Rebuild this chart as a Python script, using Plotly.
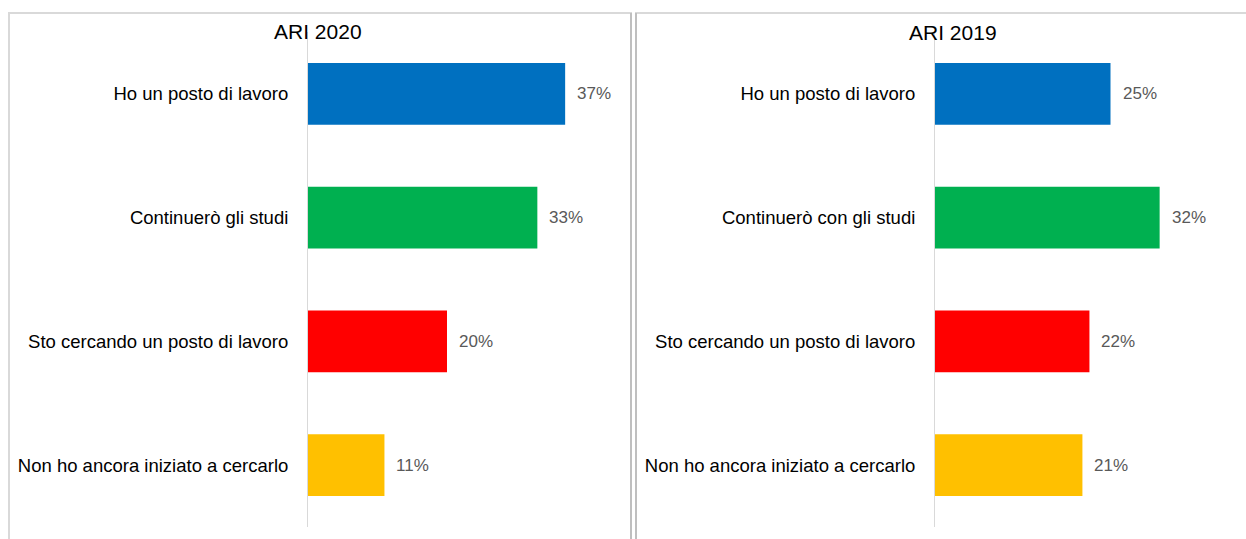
import plotly.graph_objects as go

W, H = 1246, 539

cats_2020 = ["Ho un posto di lavoro", "Continuerò gli studi",
             "Sto cercando un posto di lavoro", "Non ho ancora iniziato a cercarlo"]
vals_2020 = [37, 33, 20, 11]
cats_2019 = ["Ho un posto di lavoro", "Continuerò con gli studi",
             "Sto cercando un posto di lavoro", "Non ho ancora iniziato a cercarlo"]
vals_2019 = [25, 32, 22, 21]
colors = ["#0070C0", "#00B050", "#FF0000", "#FFC000"]
titles = ["ARI 2020", "ARI 2019"]

FONT = "Liberation Sans"

def px(x):
    return x / W

def py(y):
    return 1 - y / H

fig = go.Figure()

fig.add_trace(go.Bar(x=vals_2020, y=cats_2020, orientation="h",
                     marker=dict(color=colors, line=dict(width=0)),
                     xaxis="x", yaxis="y", showlegend=False, hoverinfo="skip"))
fig.add_trace(go.Bar(x=vals_2019, y=cats_2019, orientation="h",
                     marker=dict(color=colors, line=dict(width=0)),
                     xaxis="x2", yaxis="y2", showlegend=False, hoverinfo="skip"))

annotations = []
for xa, ya, cats, vals in [("x", "y", cats_2020, vals_2020), ("x2", "y2", cats_2019, vals_2019)]:
    for c, v in zip(cats, vals):
        annotations.append(dict(x=v, y=c, xref=xa, yref=ya, text=f"{v}%",
                                showarrow=False, xanchor="left", xshift=10,
                                font=dict(family=FONT, size=17, color="#595959")))

annotations.append(dict(x=px(318), y=py(31), xref="paper", yref="paper", text=titles[0],
                        xanchor="center", yanchor="middle",
                        showarrow=False, font=dict(family=FONT, size=21, color="#000000")))
annotations.append(dict(x=px(953), y=py(33), xref="paper", yref="paper", text=titles[1],
                        xanchor="center", yanchor="middle",
                        showarrow=False, font=dict(family=FONT, size=21, color="#000000")))

shapes = [
    dict(type="path", xref="paper", yref="paper",
         path=f"M {px(9)},{py(545)} L {px(9)},{py(13)} L {px(631)},{py(13)} L {px(631)},{py(545)}",
         line=dict(color="#d9d9d9", width=2)),
    dict(type="line", xref="paper", yref="paper", x0=px(631), x1=px(631), y0=py(545), y1=py(13),
         line=dict(color="#bfbfbf", width=2)),
    dict(type="path", xref="paper", yref="paper",
         path=f"M {px(636)},{py(545)} L {px(636)},{py(13)} L {px(1250)},{py(13)}",
         line=dict(color="#d9d9d9", width=2)),
    dict(type="line", xref="paper", yref="paper", x0=px(636), x1=px(636), y0=py(545), y1=py(13),
         line=dict(color="#bfbfbf", width=2)),
]

ydom = [py(527), py(32)]

yax_common = dict(autorange="reversed", showline=True, linecolor="#d9d9d9", linewidth=1,
                  showgrid=False, zeroline=False, ticks="", ticklabelstandoff=15,
                  tickfont=dict(family=FONT, size=18.5, color="#000000"), domain=ydom, fixedrange=True)

fig.update_layout(
    width=W, height=H,
    margin=dict(l=0, r=0, t=0, b=0),
    paper_bgcolor="white", plot_bgcolor="white",
    bargap=0.5,
    xaxis=dict(domain=[px(308), px(630)], range=[0, (630 - 308) / 6.95], visible=False, fixedrange=True),
    xaxis2=dict(domain=[px(935), 1.0], range=[0, (1246 - 935) / 7.02], visible=False, fixedrange=True),
    yaxis=dict(anchor="x", **yax_common),
    yaxis2=dict(anchor="x2", **yax_common),
    annotations=annotations,
    shapes=shapes,
)

fig.write_html("out.html")
